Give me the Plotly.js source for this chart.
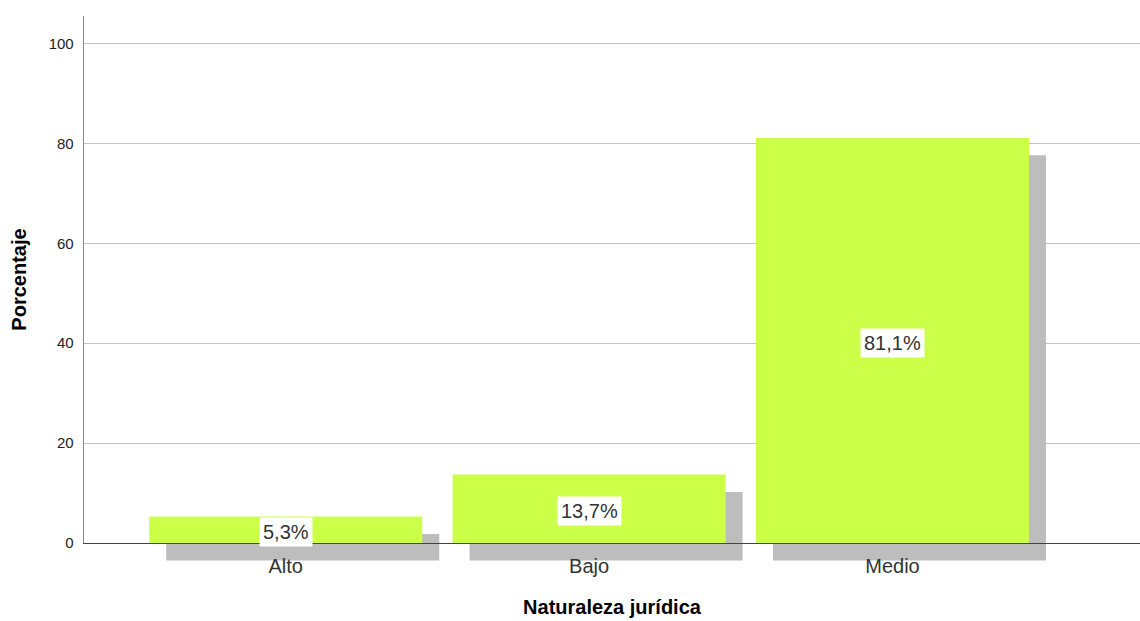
<!DOCTYPE html>
<html>
<head>
<meta charset="utf-8">
<script src="https://cdn.plot.ly/plotly-3.0.1.min.js"></script>
<style>html,body{margin:0;padding:0;background:#fff;}#chart{width:1140px;height:621px;}</style>
</head>
<body>
<div id="chart"></div>
<script>
const categories = ['Alto', 'Bajo', 'Medio'];
const percentages = [5.3, 13.7, 81.1];
const yTickValues = [0, 20, 40, 60, 80, 100];
const xTitle = 'Naturaleza jurídica';
const yTitle = 'Porcentaje';

const FONT = 'Liberation Sans, Arial, sans-serif';
const barColor = '#ccff47';
const shadowColor = '#bdbdbd';
const shadowDrop = 3.5;     // shadow depth in y units
const shadowShift = 0.056;  // shadow shift in category units
const barWidth = 0.9;
const yTop = 105.5;
const yBottom = -3.6;
const xRange = [-0.665, 2.816];

const labels = percentages.map(v => v.toFixed(1).replace('.', ',') + '%');

const shadow = {
  type: 'bar', x: categories, y: percentages, base: percentages.map(() => -shadowDrop),
  width: barWidth, offset: -barWidth / 2 + shadowShift,
  marker: {color: shadowColor, line: {width: 0}},
  xaxis: 'x', yaxis: 'y', hoverinfo: 'skip', showlegend: false
};
const bars = {
  type: 'bar', x: categories, y: percentages,
  width: barWidth,
  marker: {color: barColor, line: {width: 0}},
  xaxis: 'x2', yaxis: 'y2', showlegend: false
};

const annotations = categories.map((c, i) => ({
  x: c, y: percentages[i] / 2, xref: 'x2', yref: 'y2',
  text: labels[i], showarrow: false, yshift: -2.5,
  bgcolor: '#ffffff', borderpad: 3,
  font: {family: FONT, size: 20, color: '#333333'}
}));

const d = (0 - yBottom) / (yTop - yBottom);

const layout = {
  width: 1140, height: 621,
  margin: {l: 84, r: 0, t: 16, b: 59.5},
  paper_bgcolor: '#ffffff', plot_bgcolor: 'rgba(0,0,0,0)',
  font: {family: FONT},
  xaxis: {visible: false, range: xRange, type: 'category', categoryorder: 'array', categoryarray: categories, fixedrange: true},
  yaxis: {
    domain: [0, 1], range: [yBottom, yTop], tickvals: yTickValues.filter(v => v > 0),
    showgrid: true, gridcolor: '#c4c4c4', gridwidth: 1, showticklabels: false,
    ticks: '', zeroline: false, showline: false
  },
  xaxis2: {
    anchor: 'y2', range: xRange, type: 'category', categoryorder: 'array', categoryarray: categories,
    showline: true, linecolor: '#444444', linewidth: 1, showgrid: false,
    ticks: 'outside', ticklen: 5, tickcolor: 'rgba(0,0,0,0)',
    tickfont: {family: FONT, size: 20, color: '#333333'},
    title: {text: xTitle, font: {family: FONT, size: 20, color: '#000000', weight: 'bold'}, standoff: 23}
  },
  yaxis2: {
    anchor: 'x2', domain: [d, 1], range: [0, yTop], tickvals: yTickValues,
    showgrid: false, zeroline: false, showline: true, linecolor: '#888888', linewidth: 1.3,
    ticks: 'outside', ticklen: 6, tickcolor: 'rgba(0,0,0,0)',
    tickfont: {family: FONT, size: 15, color: '#222222'},
    title: {text: yTitle, font: {family: FONT, size: 20, color: '#000000', weight: 'bold'}, standoff: 16}
  },
  annotations: annotations,
  bargap: 0.1
};

Plotly.newPlot('chart', [shadow, bars], layout, {displayModeBar: false, staticPlot: true});
</script>
</body>
</html>
